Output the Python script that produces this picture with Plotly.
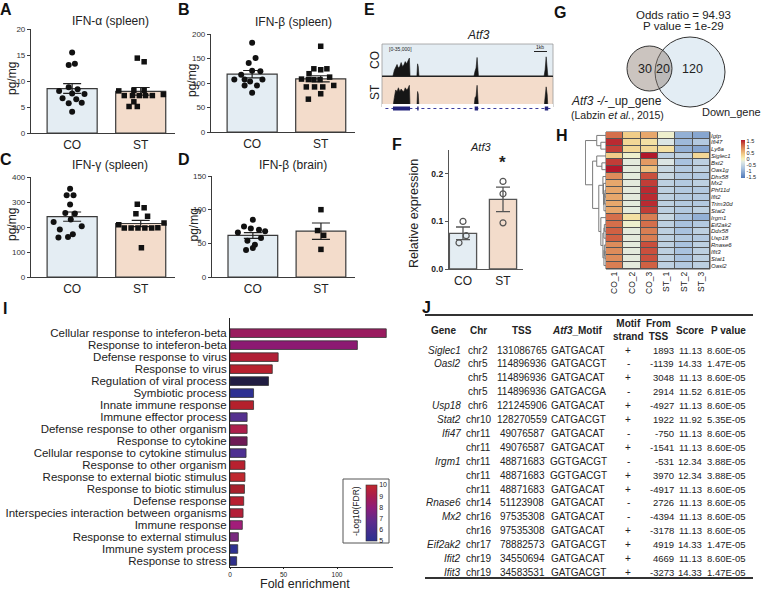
import numpy as np
import plotly.graph_objects as go

W, H = 762, 590
FONT = "Arial, Liberation Sans, sans-serif"

# ---------------- DATA ----------------
groups = ["CO", "ST"]

# A  IFN-alpha (spleen), pg/mg
ifna_co = [15.5, 13.1, 13.3, 8.8, 8.1, 8.4, 7.6, 7.5, 6.7, 6.5, 5.7, 5.8, 4.1]
ifna_co_jit = [0.0, -0.05, 0.04, -0.05, -0.19, 0.08, 0.0, 0.18, -0.14, 0.06, -0.05, 0.14, 0.0]
ifna_st = [14.4, 13.7, 8.1, 8.2, 8.2, 7.2, 7.2, 7.2, 7.2, 7.2, 7.4, 6.0, 5.1, 5.1]
ifna_st_jit = [-0.05, 0.05, -0.32, -0.1, 0.05, -0.24, -0.12, -0.02, 0.07, 0.17, 0.33, -0.1, -0.17, -0.05]

# B  IFN-beta (spleen)
ifnb_co = [182, 151, 141, 117, 125, 124, 107, 107, 107, 103, 95, 95, 80]
ifnb_co_jit = [0.0, 0.05, -0.05, -0.16, 0.0, 0.12, -0.26, -0.11, 0.15, -0.03, -0.11, 0.07, 0.0]
ifnb_st = [175, 129, 127, 129, 119, 108, 107, 107, 107, 112, 92, 92, 92, 95, 78, 67]
ifnb_st_jit = [0.0, -0.1, 0.0, 0.09, -0.17, -0.28, -0.18, -0.1, -0.01, 0.13, -0.21, -0.09, 0.03, 0.19, 0.0, -0.18]

# C  IFN-gamma (spleen)
ifng_co = [353, 327, 327, 290, 256, 254, 230, 220, 203, 190, 171, 160, 158]
ifng_co_jit = [-0.03, -0.08, 0.02, -0.03, -0.1, 0.04, -0.02, -0.27, 0.14, -0.18, 0.01, -0.06, -0.2]
ifng_st = [291, 277, 253, 243, 209, 196, 196, 196, 196, 196, 197, 216, 117]
ifng_st_jit = [-0.05, 0.05, -0.07, 0.1, -0.32, -0.24, -0.14, -0.04, 0.06, 0.16, 0.25, 0.34, 0.01]

# D  IFN-beta (brain)
ifnbb_co = [85, 75, 72, 70, 68, 66, 58, 54, 48, 43, 40]
ifnbb_co_jit = [0.0, -0.13, -0.03, 0.09, 0.18, -0.22, 0.12, -0.08, 0.03, 0.0, -0.1]
ifnbb_st = [100, 69, 62, 41]
ifnbb_st_jit = [0.0, -0.05, 0.04, 0.0]

# E  coverage tracks (Atf3 locus, relative position 0-100)
cov_pos = [0, 6.4, 7.2, 8.0, 8.8, 9.6, 10.4, 11.2, 12.0, 12.8, 13.6, 14.4, 15.2, 16.0, 16.4,
           20.4, 20.8, 21.2, 21.6, 53.8, 54.4, 55.0, 55.6, 56.0, 56.4,
           94.8, 95.4, 96.0, 96.6, 97.0, 100]
cov_co = [0, 0, 0.18, 0.3, 0.36, 0.25, 0.3, 0.42, 0.3, 0.35, 0.45, 0.38, 0.5, 0.56, 0,
          0, 0.38, 0.3, 0, 0, 0.15, 0.25, 0.58, 0.2, 0,
          0, 0.2, 0.6, 0.3, 0, 0]
cov_st = [0, 0, 0.3, 0.55, 0.5, 0.62, 0.5, 0.58, 0.52, 0.5, 0.62, 0.55, 0.6, 0.7, 0,
          0, 0.5, 0.42, 0, 0, 0.3, 0.35, 0.7, 0.3, 0,
          0, 0.3, 0.65, 0.4, 0, 0]
exon_start = [6.4, 20.6, 54.2, 95.2]
exon_end = [16.4, 21.4, 56.2, 97.2]

# F  Atf3 relative expression
atf3_co = [0.100, 0.070, 0.055]
atf3_co_jit = [0.0, 0.08, -0.1]
atf3_st = [0.184, 0.158, 0.097]
atf3_st_jit = [0.0, 0.0, 0.0]

# G  Venn
venn_left_only, venn_overlap, venn_right_only = 30, 20, 120
odds_ratio, venn_p = "94.93", "1e-29"

# H  heatmap (z-scores)
hm_genes = ["Igtp", "Ifi47", "Ly6a", "Siglec1", "Bst2", "Oas1g", "Dhx58", "Mx2", "Phf11d", "Ifit2",
            "Trim30d", "Stat2", "Irgm1", "Eif2ak2", "Ddx58", "Usp18", "Rnase6", "Ifit3", "Stat1", "Oasl2"]
hm_samples = ["CO_1", "CO_2", "CO_3", "ST_1", "ST_2", "ST_3"]
hm_values = [
    [1.1, 0.4, 0.7, -0.1, -1.0, -1.1],
    [1.5, 0.3, 0.2, -0.3, -0.9, -0.7],
    [1.4, 0.3, 0.3, 0.2, -1.0, -1.1],
    [0.4, -0.1, 1.6, -0.6, -0.6, 0.3],
    [1.4, -0.2, 0.8, -0.3, -0.8, -0.6],
    [1.6, -0.2, 0.5, -0.5, -0.7, -0.6],
    [0.9, -0.2, 1.3, -0.5, -0.7, -0.7],
    [0.7, -0.2, 1.4, -0.6, -0.7, -0.6],
    [0.7, -0.2, 1.5, -0.6, -0.7, -0.7],
    [0.7, -0.2, 1.5, -0.6, -0.7, -0.7],
    [0.7, -0.2, 1.5, -0.6, -0.7, -0.7],
    [0.7, -0.2, 1.4, -0.6, -0.7, -0.6],
    [1.1, 0.2, 1.0, -0.5, -0.8, -1.0],
    [1.1, -0.1, 1.1, -0.6, -0.8, -0.7],
    [1.2, -0.2, 1.0, -0.6, -0.8, -0.6],
    [1.2, -0.2, 1.0, -0.6, -0.7, -0.7],
    [0.9, -0.2, 1.3, -0.6, -0.8, -0.6],
    [0.9, -0.2, 1.3, -0.6, -0.8, -0.6],
    [0.9, -0.2, 1.3, -0.6, -0.8, -0.6],
    [1.0, -0.2, 1.2, -0.6, -0.7, -0.6],
]
# dendrogram merges: (node a, node b, height); leaves 0..19, new nodes from 20
hm_merges = [(1, 2, 0.25), (0, 20, 0.45), (4, 5, 0.2), (3, 22, 0.45), (8, 9, 0.05),
             (24, 10, 0.08), (25, 11, 0.1), (7, 26, 0.12), (6, 27, 0.15), (13, 14, 0.08),
             (29, 15, 0.1), (17, 18, 0.05), (16, 31, 0.08), (32, 19, 0.1), (30, 33, 0.15),
             (12, 34, 0.25), (28, 35, 0.35), (23, 36, 0.65), (21, 37, 1.0)]

# I  GO enrichment
go_terms = ["Cellular response to inteferon-beta", "Response to inteferon-beta", "Defense response to virus",
            "Response to virus", "Regulation of viral process", "Symbiotic process", "Innate immune response",
            "Immune effector process", "Defense response to other organism", "Response to cytokine",
            "Cellular response to cytokine stimulus", "Response to other organism",
            "Response to external biotic stimulus", "Response to biotic stimulus", "Defense response",
            "Interspecies interaction between organisms", "Immune response", "Response to external stimulus",
            "Immune system process", "Response to stress"]
go_fold = [146, 119, 45, 39.5, 36, 22, 22, 16, 16, 16, 15, 14, 14, 13.5, 12.8, 12.2, 11.5, 7.8, 7.2, 6.2]
go_colors = ["#9a1b5f", "#8c1a72", "#b11f36", "#b8202e", "#211d42", "#2e3192", "#b4202c", "#55318f",
             "#ad1f4b", "#6d1a55", "#4e3092", "#b8202f", "#c0282f", "#a8202c", "#b71e30", "#b41f38",
             "#a21d7a", "#7a2a80", "#2e3192", "#2f2f8a"]
fdr_ticks = [5, 6, 7, 8, 9, 10]

# J  motif table
tbl_gene = ["Siglec1", "Oasl2", "", "", "Usp18", "Stat2", "Ifi47", "", "Irgm1", "", "", "Rnase6", "Mx2", "",
            "Eif2ak2", "Ifit2", "Ifit3"]
tbl_chr = ["chr2", "chr5", "chr5", "chr5", "chr6", "chr10", "chr11", "chr11", "chr11", "chr11", "chr11",
           "chr14", "chr16", "chr16", "chr17", "chr19", "chr19"]
tbl_tss = ["131086765", "114896936", "114896936", "114896936", "121245906", "128270559", "49076587",
           "49076587", "48871683", "48871683", "48871683", "51123908", "97535308", "97535308", "78882573",
           "34550694", "34583531"]
tbl_motif = ["GATGACAT", "GATGACGT", "GATGACAT", "GATGACGA", "GATGACAT", "CATGACGT", "GATGACAT", "GATGACAT",
             "GGTGACGT", "GGTGACGT", "GATGACAT", "GATGACAT", "GATGACAT", "GATGACAT", "GATGACGT", "GATGACAT",
             "GATGACGT"]
tbl_strand = ["+", "-", "+", "-", "+", "+", "-", "+", "-", "+", "+", "-", "-", "+", "+", "+", "+"]
tbl_from = ["1893", "-1139", "3048", "2914", "-4927", "1922", "-750", "-1541", "-531", "3970", "-4917",
            "2726", "-4394", "-3178", "4919", "4669", "-3273"]
tbl_score = ["11.13", "14.33", "11.13", "11.52", "11.13", "11.92", "11.13", "11.13", "12.34", "12.34",
             "11.13", "11.13", "11.13", "11.13", "14.33", "11.13", "14.33"]
tbl_p = ["8.60E-05", "1.47E-05", "8.60E-05", "6.81E-05", "8.60E-05", "5.35E-05", "8.60E-05", "8.60E-05",
         "3.88E-05", "3.88E-05", "8.60E-05", "8.60E-05", "8.60E-05", "8.60E-05", "1.47E-05", "8.60E-05",
         "1.47E-05"]
tbl_header = ["Gene", "Chr", "TSS", "<i>Atf3</i>_Motif", "Motif<br>strand", "From<br>TSS", "Score", "P value"]

# ---------------- HELPERS ----------------
def xd(a, b):
    return [a / W, b / W]


def yd(top, bottom):
    return [1 - bottom / H, 1 - top / H]


def px(x):
    return x / W


def py(y):
    return 1 - y / H


def sem(v):
    v = np.asarray(v, float)
    return float(v.std(ddof=1) / np.sqrt(len(v)))


fig = go.Figure()
axes = {}
annotations = []
shapes = []


def add_axes(k, xdom, ydom, xopts, yopts):
    s = "" if k == 1 else str(k)
    base = dict(showgrid=False, zeroline=False, automargin=False)
    axes["xaxis" + s] = dict(base, domain=xd(*xdom), anchor="y" + s, **xopts)
    axes["yaxis" + s] = dict(base, domain=yd(*ydom), anchor="x" + s, **yopts)
    return "x" + s, "y" + s


def ann(text, x, y, size=12, xanchor="center", yanchor="middle", angle=0, color="#222", bold=False):
    if bold:
        text = "<b>" + text + "</b>"
    annotations.append(dict(text=text, x=px(x), y=py(y), xref="paper", yref="paper", showarrow=False,
                            xanchor=xanchor, yanchor=yanchor, textangle=angle, borderpad=0,
                            font=dict(size=size, color=color, family=FONT)))


CO_FILL = "#e4edf3"
ST_FILL = "#f3dccb"
EDGE = "#3a3a3a"

# ---------------- A-D bar/dot plots ----------------
bar_panels = [
    ("IFN-α (spleen)", ifna_co, ifna_co_jit, ifna_st, ifna_st_jit, [0, 20], 5, (31, 175), (29, 133), 110, 21),
    ("IFN-β (spleen)", ifnb_co, ifnb_co_jit, ifnb_st, ifnb_st_jit, [0, 200], 50, (211, 355), (34, 132), 293, 22),
    ("IFN-γ (spleen)", ifng_co, ifng_co_jit, ifng_st, ifng_st_jit, [0, 400], 100, (31, 175), (177, 277), 110, 165),
    ("IFN-β (brain)", ifnbb_co, ifnbb_co_jit, ifnbb_st, ifnbb_st_jit, [0, 150], 50, (212, 355), (176, 277), 293, 165),
]
for k, (title, co, coj, st, stj, yr, dt, xdom, ydom, tx, ty) in enumerate(bar_panels, start=1):
    xa, ya = add_axes(
        k, xdom, ydom,
        dict(range=[-0.6, 1.5], tickvals=[0, 1], ticktext=groups, showline=True, linecolor=EDGE,
             linewidth=1.2, ticks="", tickfont=dict(size=12, color="#222")),
        dict(range=yr, dtick=dt, showline=True, linecolor=EDGE, linewidth=1.2, ticks="outside",
             ticklen=3, tickcolor=EDGE, tickfont=dict(size=8, color="#333")))
    fig.add_trace(go.Bar(x=[0, 1], y=[np.mean(co), np.mean(st)], width=0.73,
                         marker=dict(color=[CO_FILL, ST_FILL], line=dict(color=EDGE, width=1.2)),
                         error_y=dict(type="data", array=[sem(co), sem(st)], color="#222",
                                      thickness=1.2, width=9),
                         xaxis=xa, yaxis=ya, showlegend=False, hoverinfo="skip"))
    fig.add_trace(go.Scatter(x=[0 + j for j in coj], y=co, mode="markers",
                             marker=dict(symbol="circle", size=6, color="#111"),
                             xaxis=xa, yaxis=ya, showlegend=False, hoverinfo="skip"))
    fig.add_trace(go.Scatter(x=[1 + j for j in stj], y=st, mode="markers",
                             marker=dict(symbol="square", size=5.5, color="#111"),
                             xaxis=xa, yaxis=ya, showlegend=False, hoverinfo="skip"))
    ann(title, tx, ty, size=12)
    ann("pg/mg", xdom[0] - 19, (ydom[0] + ydom[1]) / 2 - 2, size=12, angle=-90)

# ---------------- E tracks ----------------
track_defs = [(5, (44, 76), cov_co, CO_FILL, "CO", 60), (6, (76, 107), cov_st, ST_FILL, "ST", 92)]
for k, ydom, cov, bg, lab, ly in track_defs:
    xa, ya = add_axes(k, (382, 553), ydom,
                      dict(range=[0, 100], showline=True, linecolor="#222", linewidth=1.2,
                           showticklabels=False, ticks=""),
                      dict(range=[0, 1], showline=False, showticklabels=False, ticks=""))
    shapes.append(dict(type="rect", xref=xa + " domain", yref=ya + " domain", x0=0, x1=1, y0=0, y1=1,
                       fillcolor=bg, line=dict(color="#9a9a9a", width=0.8), layer="below"))
    fig.add_trace(go.Scatter(x=cov_pos, y=cov, mode="lines", fill="tozeroy", fillcolor="#161616",
                             line=dict(color="#161616", width=0.6), xaxis=xa, yaxis=ya,
                             showlegend=False, hoverinfo="skip"))
    ann(lab, 375, ly, size=12, angle=-90)

xa, ya = add_axes(7, (382, 553), (104, 113),
                  dict(range=[0, 100], visible=False), dict(range=[0, 1], visible=False))
fig.add_trace(go.Scatter(x=[2, 100], y=[0.5, 0.5], mode="lines", line=dict(color="#3c3c9c", width=1, dash="dot"),
                         xaxis=xa, yaxis=ya, showlegend=False, hoverinfo="skip"))
ex_x, ex_y = [], []
for s, e in zip(exon_start, exon_end):
    ex_x += [s, e, None]
    ex_y += [0.5, 0.5, None]
fig.add_trace(go.Scatter(x=ex_x, y=ex_y, mode="lines", line=dict(color="#23237a", width=4),
                         xaxis=xa, yaxis=ya, showlegend=False, hoverinfo="skip"))
ann("<i>Atf3</i>", 478, 35, size=12)
ann("[0-35,000]", 388, 49, size=5, xanchor="left")
ann("1kb", 540, 47, size=5)
shapes.append(dict(type="line", xref="paper", yref="paper", x0=px(534), x1=px(547), y0=py(51.5), y1=py(51.5),
                   line=dict(color="#222", width=1)))

# ---------------- F ----------------
xa, ya = add_axes(8, (449, 523), (150, 269),
                  dict(range=[-0.35, 1.5], tickvals=[0, 1], ticktext=groups, showline=True, linecolor="#555",
                       linewidth=1.2, ticks="", tickfont=dict(size=12, color="#222")),
                  dict(range=[0, 0.25], tickvals=[0, 0.1, 0.2], ticktext=["<b>0.0</b>", "<b>0.1</b>", "<b>0.2</b>"],
                       showline=True, linecolor="#555", linewidth=1.2, ticks="outside", ticklen=3,
                       tickcolor="#555", tickfont=dict(size=8.5, color="#222")))
fig.add_trace(go.Bar(x=[0, 1], y=[np.mean(atf3_co), np.mean(atf3_st)], width=0.68,
                     marker=dict(color=[CO_FILL, ST_FILL], line=dict(color="#555", width=1.3)),
                     error_y=dict(type="data", array=[sem(atf3_co), sem(atf3_st)], color="#555",
                                  thickness=1.3, width=7),
                     xaxis=xa, yaxis=ya, showlegend=False, hoverinfo="skip"))
fig.add_trace(go.Scatter(x=[0 + j for j in atf3_co_jit] + [1 + j for j in atf3_st_jit], y=atf3_co + atf3_st,
                         mode="markers", marker=dict(symbol="circle-open", size=6, color="#555", line=dict(width=1.2)),
                         xaxis=xa, yaxis=ya, showlegend=False, hoverinfo="skip"))
ann("<i>Atf3</i>", 480, 147, size=11)
ann("*", 502, 163, size=17, bold=True)
ann("Relative expression", 414, 214, size=12.5, angle=-90)

# ---------------- G Venn ----------------
shapes.append(dict(type="circle", xref="paper", yref="paper", x0=px(655), x1=px(725), y0=py(107), y1=py(37),
                   fillcolor="#e3edf4", line=dict(color="#333", width=1)))
shapes.append(dict(type="circle", xref="paper", yref="paper", x0=px(627), x1=px(672), y0=py(91), y1=py(46),
                   fillcolor="rgba(140,124,114,0.45)", line=dict(color="#333", width=1)))
ann(f"Odds ratio = {odds_ratio}", 683, 15, size=11.5)
ann(f"P value = {venn_p}", 683, 26, size=11.5)
ann(str(venn_left_only), 645, 69, size=12.5)
ann(str(venn_overlap), 663, 69, size=12.5)
ann(str(venn_right_only), 692, 69, size=12.5)
ann("<i>Atf3 -/-</i>_up_gene", 616, 101, size=12)
ann("(Labzin <i>et al.</i>, 2015)", 617, 115, size=10.5)
ann("Down_gene", 731, 112, size=11)

# ---------------- H heatmap ----------------
xa, ya = add_axes(9, (585, 606), (132, 269), dict(range=[1.02, 0], visible=False),
                  dict(range=[len(hm_genes) - 0.5, -0.5], visible=False))
pos = {i: float(i) for i in range(len(hm_genes))}
hgt = {i: 0.0 for i in range(len(hm_genes))}
dxs, dys = [], []
for kk, (a, b, h) in enumerate(hm_merges):
    node = len(hm_genes) + kk
    for c in (a, b):
        dxs += [hgt[c], h, None]
        dys += [pos[c], pos[c], None]
    dxs += [h, h, None]
    dys += [pos[a], pos[b], None]
    pos[node] = (pos[a] + pos[b]) / 2
    hgt[node] = h
fig.add_trace(go.Scatter(x=dxs, y=dys, mode="lines", line=dict(color="#7a7a7a", width=1),
                         xaxis=xa, yaxis=ya, showlegend=False, hoverinfo="skip"))

hm_scale = [[0.0, "#4f78b8"], [0.25, "#a9c2df"], [0.42, "#dfe8e4"], [0.5, "#f7f3bf"],
            [0.62, "#f2cf8a"], [0.75, "#e39a63"], [0.88, "#cf5f42"], [1.0, "#b2182b"]]
xa, ya = add_axes(10, (606, 710), (132, 269),
                  dict(range=[-0.5, 5.5], tickvals=list(range(6)), ticktext=hm_samples, tickangle=-90,
                       ticks="", tickfont=dict(size=8.5, color="#222"), showline=False),
                  dict(range=[len(hm_genes) - 0.5, -0.5], tickvals=list(range(len(hm_genes))),
                       ticktext=[f"<i>{g}</i>" for g in hm_genes], side="right", ticks="",
                       tickfont=dict(size=6, color="#222"), showline=False))
shapes.append(dict(type="rect", xref=xa + " domain", yref=ya + " domain", x0=0, x1=1, y0=0, y1=1,
                   fillcolor="#555", line=dict(color="#555", width=1), layer="below"))
fig.add_trace(go.Heatmap(z=hm_values, x=list(range(6)), y=list(range(len(hm_genes))), zmin=-1.6, zmax=1.6,
                         colorscale=hm_scale, xgap=1, ygap=1, xaxis=xa, yaxis=ya, hoverinfo="skip",
                         colorbar=dict(x=px(741), xanchor="left", y=py(159), yanchor="middle", len=38,
                                       lenmode="pixels", thickness=4, thicknessmode="pixels", xpad=0, ypad=0,
                                       tickvals=[-1.5, -1, -0.5, 0, 0.5, 1, 1.5],
                                       ticktext=["-1.5", "-1", "-0.5", "0", "0.5", "1", "1.5"],
                                       tickfont=dict(size=5.5, color="#222"), outlinewidth=0, ticks="")))

# ---------------- I GO bars ----------------
xa, ya = add_axes(11, (230, 393), (317.7, 567),
                  dict(range=[0, 152.3], tickvals=[0, 50, 100], showline=True, linecolor="#222", linewidth=1,
                       ticks="outside", ticklen=1, tickcolor="#222", tickfont=dict(size=6.5, color="#222")),
                  dict(autorange="reversed", type="category", tickmode="array", tickvals=go_terms,
                       ticktext=go_terms, showline=True, linecolor="#222", linewidth=1,
                       ticks="", tickfont=dict(size=11.5, color="#222")))
fig.add_trace(go.Bar(x=go_fold, y=go_terms, orientation="h", width=0.72,
                     marker=dict(color=go_colors, line=dict(color="#333", width=0.8)),
                     xaxis=xa, yaxis=ya, showlegend=False, hoverinfo="skip"))
fdr_scale = [[0.0, "#2b3090"], [0.35, "#5d2b8c"], [0.6, "#8f1c78"], [0.8, "#a81d4e"], [1.0, "#c1272d"]]
fig.add_trace(go.Scatter(x=[0, 0], y=[go_terms[0], go_terms[0]], mode="markers",
                         marker=dict(size=0.1, opacity=0, color=[min(fdr_ticks), max(fdr_ticks)], cmin=5, cmax=10,
                                     colorscale=fdr_scale, showscale=True,
                                     colorbar=dict(x=px(366), xanchor="left", y=py(513), yanchor="middle",
                                                   len=56, lenmode="pixels", thickness=11, thicknessmode="pixels",
                                                   xpad=0, ypad=0, tickvals=fdr_ticks,
                                                   tickfont=dict(size=7, color="#222"), outlinewidth=0.6,
                                                   outlinecolor="#333", ticks="")),
                         xaxis=xa, yaxis=ya, showlegend=False, hoverinfo="skip"))
shapes.append(dict(type="rect", xref="paper", yref="paper", x0=px(343), x1=px(389), y0=py(543), y1=py(479),
                   line=dict(color="#555", width=1), fillcolor="rgba(0,0,0,0)"))
ann("-Log10(FDR)", 356, 511, size=8.5, angle=-90)
ann("Fold enrichment", 305, 583.5, size=12.5)

# ---------------- J table ----------------
hdr_x = [443, 478, 522, 577, 628, 658, 690, 728]
for t, x in zip(tbl_header, hdr_x):
    ann(t, x, 330, size=10, bold=True)
row_y0, row_dy = 350, 13.9
for i in range(len(tbl_chr)):
    y = row_y0 + i * row_dy
    if tbl_gene[i]:
        ann(f"<i>{tbl_gene[i]}</i>", 462, y, size=10, xanchor="right")
    ann(tbl_chr[i], 478, y, size=10)
    ann(tbl_tss[i], 522, y, size=10)
    ann(tbl_motif[i], 578, y, size=10)
    ann(tbl_strand[i], 628, y, size=10)
    ann(tbl_from[i], 675, y, size=9.5, xanchor="right")
    ann(tbl_score[i], 690, y, size=9.5)
    ann(tbl_p[i], 726, y, size=9.5)
for yline in (315, 578):
    shapes.append(dict(type="line", xref="paper", yref="paper", x0=px(425), x1=px(753), y0=py(yline),
                       y1=py(yline), line=dict(color="#333", width=1.8)))

# ---------------- panel letters ----------------
for lab, x, y in [("A", 6, 10), ("B", 184, 10), ("C", 6, 160), ("D", 184, 160), ("E", 369, 10),
                  ("F", 397, 144), ("G", 560, 13), ("H", 562, 135), ("I", 5, 308), ("J", 426, 307)]:
    ann(lab, x, y, size=16, bold=True, color="#111")

fig.update_layout(template="none", width=W, height=H,
                  margin=dict(l=0, r=0, t=0, b=0, pad=0, autoexpand=False), paper_bgcolor="white",
                  plot_bgcolor="white", font=dict(family=FONT, color="#222"), showlegend=False,
                  annotations=annotations, shapes=shapes, bargap=0.2, **axes)
fig.write_html("out.html", config={"displayModeBar": False},
               post_script="document.body.style.margin='0px';document.body.style.overflow='hidden';")
